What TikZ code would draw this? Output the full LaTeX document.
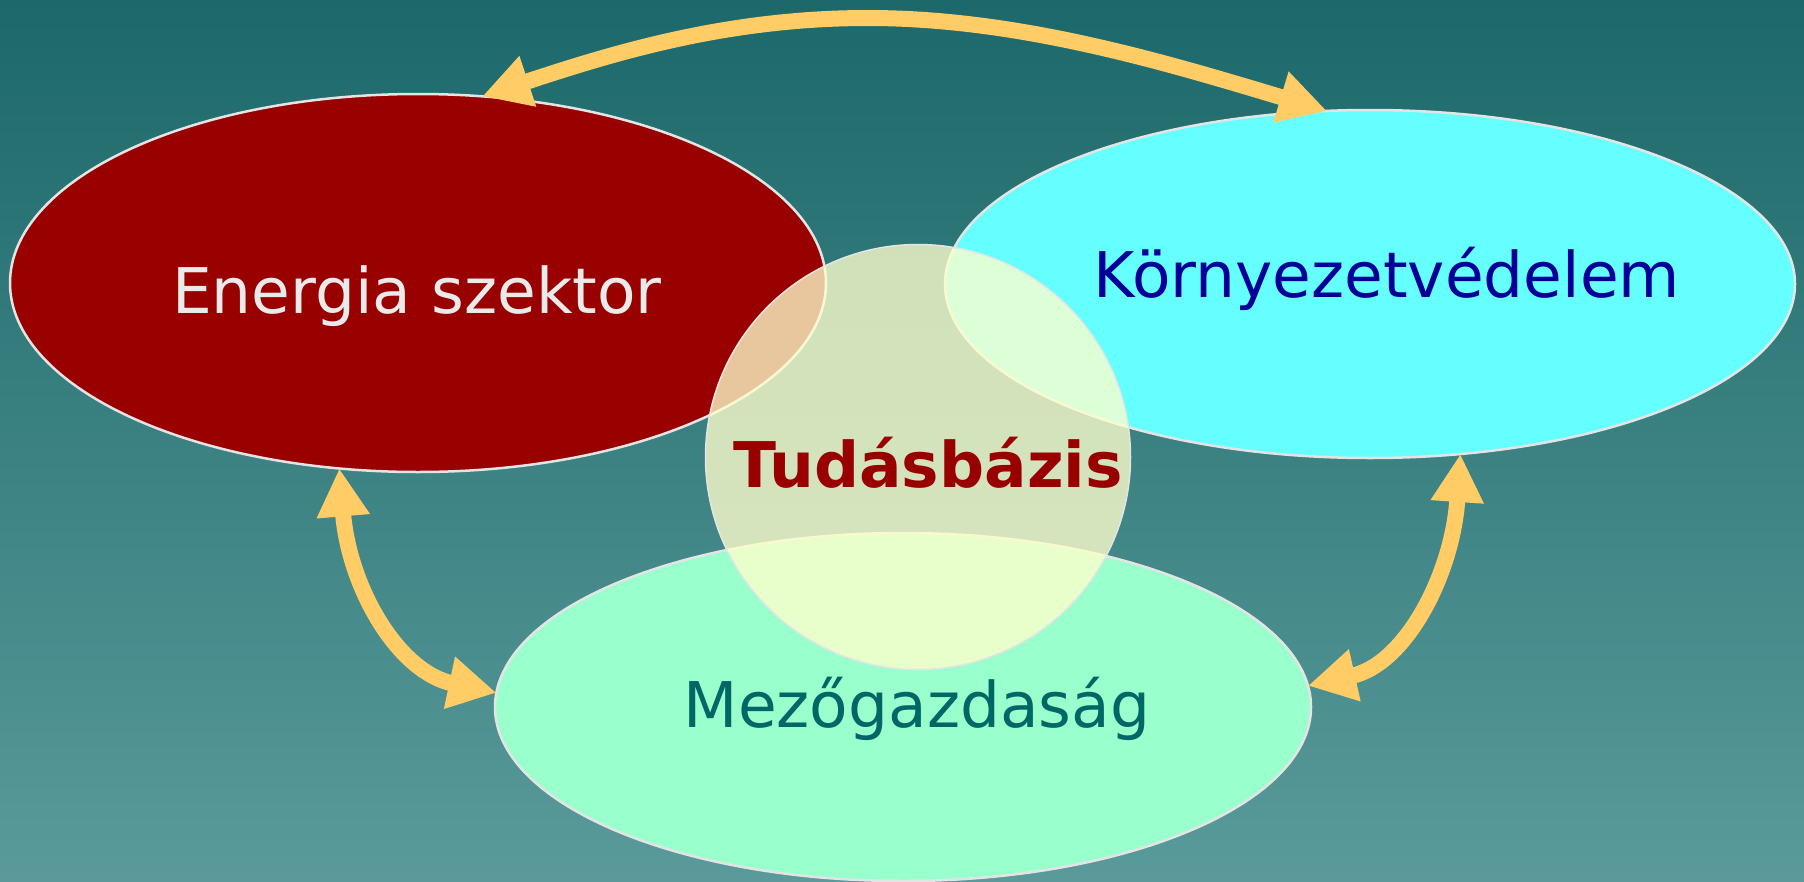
\documentclass[tikz,border=0pt]{standalone}
\usepackage{fontspec}
\newfontfamily\dv{DejaVu Sans}
\usetikzlibrary{arrows.meta,shapes.geometric}
\definecolor{bgtop}{RGB}{28,104,106}
\definecolor{bgbot}{RGB}{90,154,154}
\definecolor{enred}{RGB}{153,0,0}
\definecolor{kcyan}{RGB}{102,255,255}
\definecolor{mgreen}{RGB}{153,255,204}
\definecolor{tyellow}{RGB}{255,255,204}
\definecolor{ayellow}{RGB}{255,204,102}
\definecolor{outl}{RGB}{228,228,228}
\definecolor{ktext}{RGB}{0,0,153}
\definecolor{mtext}{RGB}{0,102,102}
\definecolor{etext}{RGB}{234,234,234}
\begin{document}
\begin{tikzpicture}[x=1pt,y=-1pt,
  blob/.style={ellipse, draw=outl, line width=2.5pt, inner sep=0pt, outer sep=0pt},
  txt/.style={font=\dv\fontsize{63}{70}\selectfont, anchor=base, inner sep=0pt},
  duo/.style={line width=16pt, draw=ayellow, {Triangle[length=48pt,width=50pt]}-{Triangle[length=48pt,width=50pt]}}]
\useasboundingbox (0,0) rectangle (1804,881);
\clip (0,0) rectangle (1804,881);
\shade[top color=bgtop, bottom color=bgbot] (0,0) rectangle (1804,881);
\node[blob, fill=enred, minimum width=816pt, minimum height=378pt] (en) at (418,283) {};
\node[blob, fill=kcyan, minimum width=850pt, minimum height=348pt] (ko) at (1370,284) {};
\node[blob, fill=mgreen, minimum width=816pt, minimum height=348pt] (me) at (903,707) {};
\node[circle, draw=outl, line width=1.5pt, fill=tyellow, fill opacity=0.78, minimum size=425pt, inner sep=0pt, outer sep=0pt] (tu) at (918,457) {};
\node[txt, text=etext] (ent) at (417,313) {Energia szektor};
\node[txt, text=ktext] (kot) at (1387,297) {Környezetvédelem};
\node[txt, text=mtext] (met) at (917,727) {Mezőgazdaság};
\node[txt, text=enred, font=\dv\bfseries\fontsize{63}{70}\selectfont] (tut) at (928,487) {Tudásbázis};
\coordinate (apex) at (868,18);
\draw[duo] (en.71.8) .. controls +(133,-44) and +(-140,0) .. (apex) .. controls +(150,0) and +(-163,-49) .. (ko.104.2);
\draw[duo] (en.247.5) .. controls +(10,120) and +(-98,-21) .. (me.178.7);
\draw[duo] (ko.298.5) .. controls +(-8,120) and +(98,-22) .. (me.3.2);
\end{tikzpicture}
\end{document}
